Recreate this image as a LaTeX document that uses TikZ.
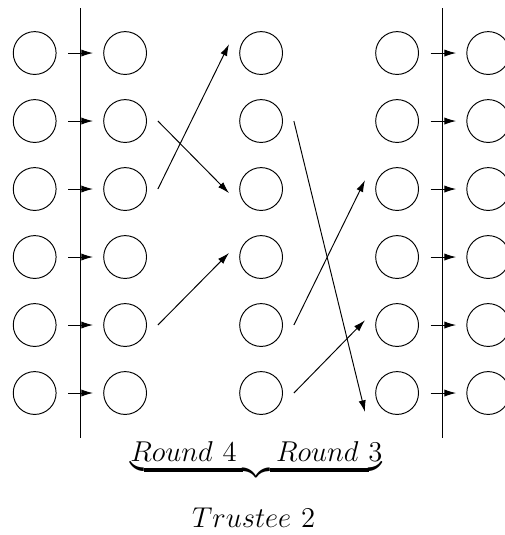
\documentclass[tikz,border=0pt]{standalone}
\usepackage{amsmath,amsfonts}
\usepackage{xcolor}
\usepackage{tikz}
\usetikzlibrary{arrows.meta}

\begin{document}
\begin{tikzpicture}[ball/.style={draw,circle,minimum size=0.63cm,inner sep=0pt},
    pass/.style={-{Latex[length=4.9pt,width=3pt]},shorten <=0.17cm,shorten >=0.15cm},
    swap/.style={-{Latex[length=4.9pt,width=3pt]}},
    caption/.style={font=\fontsize{12.5}{15}\selectfont,anchor=base}]
    \useasboundingbox (-0.51,5.78) rectangle (6.916,-2.088);
    % column a
    \node[ball] (a1) at (0,5) {};
    \node[ball] (a2) at (0,4) {};
    \node[ball] (a3) at (0,3) {};
    \node[ball] (a4) at (0,2) {};
    \node[ball] (a5) at (0,1) {};
    \node[ball] (a6) at (0,0) {};
    % column b
    \node[ball] (b1) at (1.33,5) {};
    \node[ball] (b2) at (1.33,4) {};
    \node[ball] (b3) at (1.33,3) {};
    \node[ball] (b4) at (1.33,2) {};
    \node[ball] (b5) at (1.33,1) {};
    \node[ball] (b6) at (1.33,0) {};
    % column c
    \node[ball] (c1) at (3.33,5) {};
    \node[ball] (c2) at (3.33,4) {};
    \node[ball] (c3) at (3.33,3) {};
    \node[ball] (c4) at (3.33,2) {};
    \node[ball] (c5) at (3.33,1) {};
    \node[ball] (c6) at (3.33,0) {};
    % column d
    \node[ball] (d1) at (5.33,5) {};
    \node[ball] (d2) at (5.33,4) {};
    \node[ball] (d3) at (5.33,3) {};
    \node[ball] (d4) at (5.33,2) {};
    \node[ball] (d5) at (5.33,1) {};
    \node[ball] (d6) at (5.33,0) {};
    % column e
    \node[ball] (e1) at (6.67,5) {};
    \node[ball] (e2) at (6.67,4) {};
    \node[ball] (e3) at (6.67,3) {};
    \node[ball] (e4) at (6.67,2) {};
    \node[ball] (e5) at (6.67,1) {};
    \node[ball] (e6) at (6.67,0) {};
    % borders
    \draw (0.67,5.66) -- (0.67,-0.66);
    \draw (6,5.66) -- (6,-0.66);
    \draw[pass] (a1) to (b1);
    \draw[pass] (a2) to (b2);
    \draw[pass] (a3) to (b3);
    \draw[pass] (a4) to (b4);
    \draw[pass] (a5) to (b5);
    \draw[pass] (a6) to (b6);
    \draw[pass] (d1) to (e1);
    \draw[pass] (d2) to (e2);
    \draw[pass] (d3) to (e3);
    \draw[pass] (d4) to (e4);
    \draw[pass] (d5) to (e5);
    \draw[pass] (d6) to (e6);
    % mixing
    \draw[swap] ([xshift=0.16cm]b3.east) to ([xshift=-0.15cm,yshift=0.13cm]c1.west);
    \draw[swap] ([xshift=0.16cm]b2.east) to ([xshift=-0.15cm,yshift=-0.06cm]c3.west);
    \draw[swap] ([xshift=0.16cm]b5.east) to ([xshift=-0.15cm,yshift=0.06cm]c4.west);
    \draw[swap] ([xshift=0.16cm]c2.east) to ([xshift=-0.15cm,yshift=-0.28cm]d6.west);
    \draw[swap] ([xshift=0.16cm]c5.east) to ([xshift=-0.15cm,yshift=0.13cm]d3.west);
    \draw[swap] ([xshift=0.16cm]c6.east) to ([xshift=-0.15cm,yshift=0.07cm]d5.west);
    % labels
    \node[caption] (rounds) at (3.26,-1.0) {$\underbrace{Round\ 4\quad\ Round\ 3}$};
    \node[caption] (trustee) at (3.22,-1.985) {$Trustee\ 2$};
\end{tikzpicture}
\end{document}
